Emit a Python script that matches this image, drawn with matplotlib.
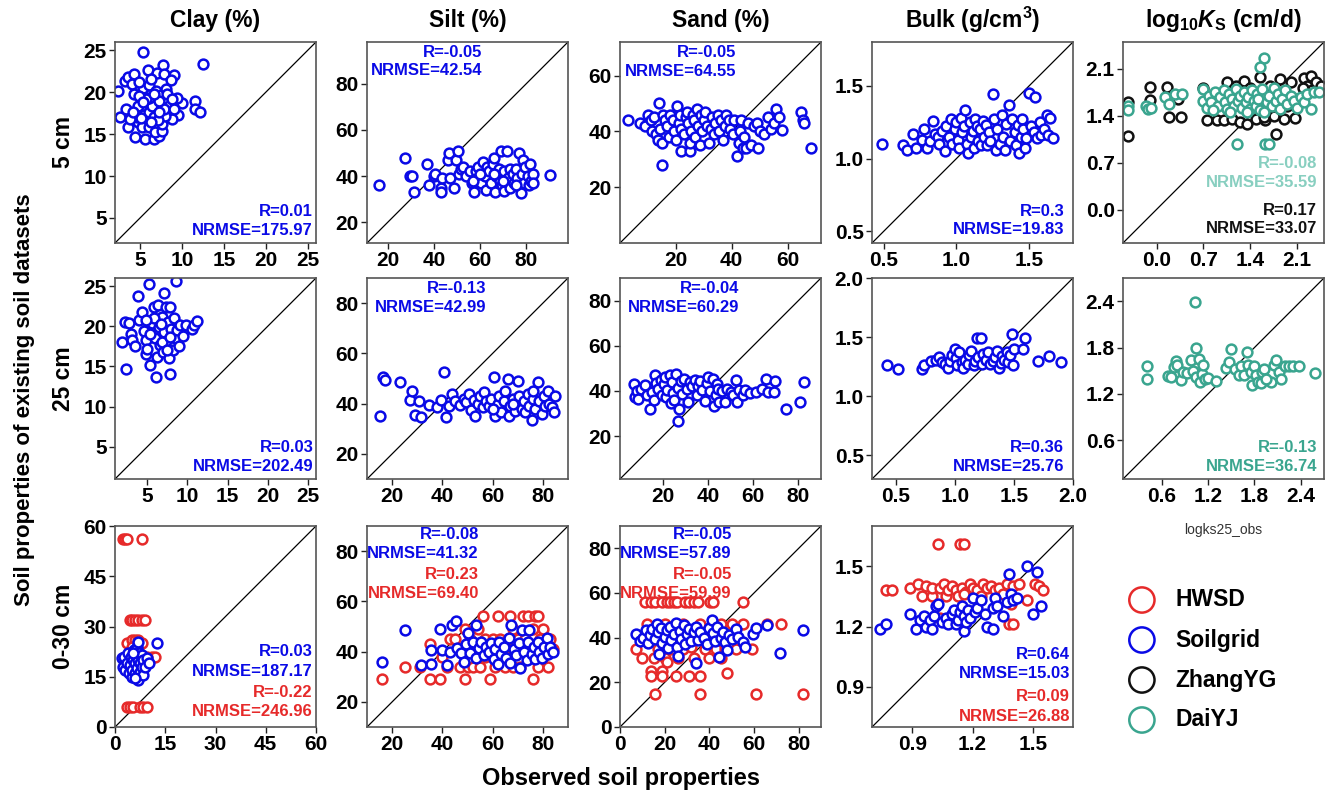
import matplotlib
matplotlib.use("Agg")
import matplotlib.pyplot as plt
from matplotlib.ticker import FormatStrFormatter

plt.rcParams["font.family"] = ["Liberation Sans", "DejaVu Sans"]
plt.rcParams["font.weight"] = "bold"
plt.rcParams["mathtext.fontset"] = "custom"
plt.rcParams["mathtext.rm"] = "Liberation Sans:bold"
plt.rcParams["mathtext.it"] = "Liberation Sans:italic:bold"
plt.rcParams["mathtext.bf"] = "Liberation Sans:bold"

BLUE = "#0a0ae6"
RED = "#e62a2a"
BLACK = "#111111"
TEAL = "#3aa58f"
TEAL_LIGHT = "#88cfc0"

# ---- 5 cm, Soilgrid ----
clay5_obs = [5.3, 12.5, 7.7, 2.4, 2.6, 3.3, 3.5, 4.4, 5.6, 6.6, 7.3, 3.2, 3.5, 4.3, 4.0, 5.9, 7.0, 7.8, 9.0, 8.7,
             11.6, 11.6, 12.2, 10.0, 9.4, 9.5, 8.8, 4.3, 4.8, 4.8, 5.2, 6.1, 6.8, 7.6, 7.6, 8.0, 5.5, 6.0, 6.4, 6.0,
             5.4, 6.1, 6.3, 6.9, 7.5, 8.1, 8.2, 8.4, 7.9, 7.2, 5.7, 4.9, 4.6, 6.7, 7.1, 8.8, 9.0, 4.9, 5.4, 6.6,
             7.3, 6.3, 5.1, 3.8, 4.2]
clay5_sg = [24.8, 23.4, 23.3, 20.1, 17.1, 18.0, 15.8, 14.7, 14.4, 14.4, 14.8, 21.3, 21.8, 22.2, 21.0, 22.7, 22.3, 22.2, 22.1, 21.5,
            19.0, 18.0, 17.6, 18.7, 19.3, 17.3, 16.8, 19.8, 18.3, 16.5, 15.8, 15.9, 15.2, 15.4, 16.2, 17.2, 17.3, 17.6, 18.4, 19.3,
            20.5, 20.9, 21.6, 20.2, 19.7, 20.4, 19.8, 18.4, 18.0, 18.9, 19.2, 21.2, 17.0, 17.1, 16.7, 19.2, 18.0, 19.5, 18.8, 19.8,
            17.6, 16.5, 16.9, 16.8, 17.6]

silt5_obs = [16, 27.5, 29.5, 30.5, 31.5, 37, 38, 40, 40.5, 43, 43, 43.5, 46, 46.5, 47, 48.5, 49.5, 50.5, 51, 51.5,
             52.5, 54, 55.5, 56.5, 57.5, 58, 59, 59, 60.5, 61, 62, 62.5, 63, 64, 64.5, 65.5, 66, 66.5, 67, 68,
             68.5, 69, 69.5, 70.5, 70.5, 71.5, 72, 73, 73, 74, 74.5, 75.5, 76, 77, 77.5, 78, 78.5, 79, 79.5, 80.5,
             81, 81.5, 82, 83, 83, 90, 57, 60, 66, 70, 75.5]
silt5_sg = [36, 48, 40, 40, 33, 45, 36, 40, 41, 35, 33, 39, 47, 50, 39, 35, 47, 51, 41, 43,
            44, 40, 42, 37, 33, 42, 39, 44, 37, 46, 40, 34, 44, 42, 37, 45, 48, 33, 40, 43,
            38, 51, 36, 42, 33.5, 51, 39, 35, 43, 41, 37, 43, 39, 50, 32.5, 41, 47, 37, 44, 40,
            36, 45, 38, 41, 37, 40.5, 38, 41, 41, 38, 36]

sand5_obs = [3, 7, 9, 10, 11, 11.5, 12, 13, 13.5, 14, 14.5, 15, 15, 15.5, 16, 17, 17.5, 18, 19, 19.5,
             20, 20.5, 21, 21.5, 22, 22, 23, 23.5, 24, 24.5, 25, 25, 25.5, 26, 26.5, 27, 27.5, 28, 28.5, 29,
             29.5, 30, 30.5, 31, 32, 32.5, 33, 33.5, 34, 35, 35.5, 36, 37, 37.5, 38, 39, 39.5, 40.5, 41, 42,
             42.5, 43, 43.5, 44, 44.5, 45, 46, 47, 48, 49, 49.5, 50, 51.5, 53, 54, 55, 56, 57, 58, 65,
             65.5, 66, 68.5]
sand5_sg = [44, 43, 42, 46, 44, 40, 45, 39, 37, 50, 41, 36, 28, 46, 44, 42, 38, 46, 44, 40,
            37, 49, 43, 46, 33, 41, 39, 45, 47, 43, 33, 36, 40, 46, 44, 38, 48, 42, 35, 46,
            40, 44, 47, 42, 36, 41, 45, 39, 43, 46, 40, 44, 37, 42, 46, 44, 41, 39, 44, 31,
            36, 40, 44, 34, 38, 34, 43, 35, 42, 43, 34, 40, 39, 45, 41, 43, 48, 45, 40.5, 47,
            44, 43, 34]

bulk5_obs = [0.49, 0.63, 0.66, 0.70, 0.72, 0.76, 0.78, 0.80, 0.82, 0.84, 0.85, 0.87, 0.88, 0.90, 0.92, 0.93, 0.95, 0.96, 0.97, 0.99,
             1.00, 1.01, 1.02, 1.03, 1.04, 1.05, 1.06, 1.07, 1.08, 1.09, 1.10, 1.11, 1.12, 1.13, 1.14, 1.15, 1.16, 1.17, 1.18, 1.19,
             1.20, 1.21, 1.22, 1.23, 1.25, 1.26, 1.27, 1.28, 1.30, 1.31, 1.32, 1.33, 1.34, 1.36, 1.37, 1.38, 1.40, 1.41, 1.42, 1.43,
             1.44, 1.45, 1.46, 1.47, 1.48, 1.50, 1.51, 1.53, 1.54, 1.55, 1.57, 1.58, 1.60, 1.62, 1.63, 1.64, 1.66]
bulk5_sg = [1.10, 1.09, 1.06, 1.17, 1.07, 1.13, 1.20, 1.07, 1.12, 1.26, 1.17, 1.15, 1.10, 1.19, 1.05, 1.22, 1.15, 1.27, 1.10, 1.20,
            1.25, 1.13, 1.07, 1.28, 1.18, 1.22, 1.33, 1.10, 1.04, 1.25, 1.15, 1.19, 1.07, 1.27, 1.22, 1.12, 1.20, 1.09, 1.26, 1.15,
            1.23, 1.09, 1.18, 1.12, 1.44, 1.27, 1.06, 1.20, 1.10, 1.30, 1.15, 1.06, 1.24, 1.37, 1.12, 1.27, 1.18, 1.09, 1.23, 1.04,
            1.15, 1.27, 1.20, 1.07, 1.14, 1.45, 1.22, 1.18, 1.42, 1.14, 1.25, 1.16, 1.20, 1.30, 1.16, 1.28, 1.14]

ks5_obs_zh = [-0.42, -0.42, -0.10, -0.10, 0.15, 0.18, 0.32, 0.36, 0.70, 0.76, 0.90, 1.00, 1.05, 1.12, 1.18, 1.25, 1.30, 1.35, 1.40, 1.48,
              1.55, 1.62, 1.70, 1.76, 1.85, 1.90, 2.00, 2.07, 2.20, 2.25, 2.30, 2.32, 2.38, 2.45, 2.18, 1.78, 1.60, 1.45, 1.95, 2.10]
ks5_zh = [1.60, 1.10, 1.83, 1.63, 1.83, 1.38, 1.65, 1.38, 1.82, 1.33, 1.34, 1.34, 1.90, 1.35, 1.85, 1.30, 1.92, 1.28, 1.82, 1.35,
          1.98, 1.33, 1.85, 1.40, 1.95, 1.35, 1.90, 1.36, 1.96, 1.85, 2.00, 1.78, 1.90, 1.85, 1.82, 1.12, 1.38, 1.50, 1.55, 1.65]
ks5_obs_dai = [-0.42, -0.42, -0.15, -0.12, -0.08, 0.12, 0.18, 0.28, 0.38, 0.70, 0.70, 0.75, 0.78, 0.82, 0.88, 0.92, 0.95, 1.00, 1.02, 1.05,
               1.08, 1.12, 1.15, 1.18, 1.20, 1.22, 1.25, 1.28, 1.30, 1.33, 1.36, 1.40, 1.42, 1.45, 1.48, 1.50, 1.52, 1.55, 1.58, 1.60,
               1.55, 1.62, 1.68, 1.65, 1.68, 1.72, 1.75, 1.78, 1.82, 1.85, 1.88, 1.92, 1.95, 2.00, 2.05, 2.10, 2.15, 2.20, 2.25, 2.30,
               2.35, 2.42, 1.10, 1.35, 1.60, 0.85]
ks5_dai = [1.55, 1.48, 1.55, 1.50, 1.52, 1.68, 1.58, 1.72, 1.72, 1.80, 1.62, 1.52, 1.70, 1.60, 1.75, 1.55, 1.68, 1.78, 1.60, 1.50,
           1.72, 1.65, 1.55, 1.80, 0.98, 1.62, 1.70, 1.52, 1.75, 1.60, 1.68, 1.50, 1.78, 1.62, 1.55, 1.72, 1.65, 1.48, 1.80, 2.26,
           2.12, 0.98, 0.98, 1.60, 1.70, 1.55, 1.82, 1.62, 1.72, 1.50, 1.65, 1.78, 1.58, 1.70, 1.62, 1.52, 1.68, 1.60, 1.72, 1.50,
           1.75, 1.75, 1.45, 1.45, 1.45, 1.48]

# ---- 25 cm ----
clay25_obs = [5.2, 8.6, 7.1, 3.8, 2.3, 2.8, 1.9, 2.4, 3.0, 3.1, 3.5, 4.0, 4.3, 4.6, 4.8, 4.9, 5.0, 5.4, 5.6, 5.8,
              6.0, 6.1, 6.2, 6.4, 6.5, 6.6, 6.8, 7.0, 7.1, 7.3, 7.4, 7.6, 7.7, 7.8, 7.9, 8.0, 8.2, 8.3, 8.5, 8.7,
              8.9, 9.1, 9.4, 9.8, 10.6, 10.8, 11.2, 5.3, 6.9, 7.9, 5.9, 6.7, 4.9, 7.5]
clay25_sg = [25.3, 25.6, 24.1, 23.8, 20.5, 20.4, 18.0, 14.7, 19.0, 18.3, 17.6, 20.8, 21.8, 19.4, 18.3, 16.5, 17.2, 15.2, 20.4, 22.4,
             18.5, 13.7, 16.2, 22.7, 19.9, 17.7, 21.2, 16.8, 19.3, 22.4, 18.2, 20.5, 16.1, 14.0, 22.4, 19.7, 17.0, 21.0, 18.5, 19.5,
             17.5, 20.2, 18.8, 20.2, 19.6, 20.1, 20.6, 19.0, 18.0, 18.6, 21.0, 20.3, 20.8, 17.0]

silt25_obs = [15, 16.5, 17, 23, 27, 28, 29, 30.5, 31.5, 34.5, 38, 39.5, 40.5, 41.5, 42.5, 44, 45, 47, 48.5, 49.5,
              50.5, 51.5, 52.5, 53, 54, 55, 56, 56.5, 57.5, 58.5, 59.5, 60.5, 61, 62, 62.5, 63.5, 64.5, 65, 66, 66.5,
              67, 68, 69, 70, 70.5, 71.5, 72.5, 73, 74, 74.5, 75.5, 76, 77, 78, 78.5, 79.5, 80.5, 81, 82, 82.5,
              83.5, 84.5, 85, 60, 68, 76]
silt25_sg = [35, 50.5, 49.5, 48.5, 41.5, 45, 35.5, 41, 34.5, 39.5, 38.5, 41.5, 52.5, 34.5, 39, 44, 41, 39.5, 42, 40.5,
             44, 37.5, 41.5, 35, 40, 43, 38.5, 44.5, 41, 39, 42, 50.5, 35, 40, 43, 36.5, 41, 45, 50, 35,
             39, 42, 37, 49, 43, 38, 41, 36.5, 44, 39, 33.5, 42, 38, 48.5, 41, 36, 43, 39, 45, 40,
             38.5, 36.5, 43, 38, 40, 45]

sand25_obs = [7, 7.5, 8.5, 9, 10.5, 12, 13, 14.5, 15, 16, 16.5, 17, 18, 19, 19.5, 20.5, 21, 21.5, 22, 23,
              23.5, 24, 24.5, 25, 26, 26.5, 27, 26.5, 28, 28.5, 29.5, 30.5, 31, 32, 33, 34, 35, 35.5, 36.5, 37.5,
              38.5, 39.5, 40, 41, 42, 42.5, 43.5, 44, 44.5, 45, 46, 47.5, 48.5, 50, 51, 52.5, 53, 53.5, 55.5, 56.5,
              58.5, 61, 64, 65.5, 66.5, 69, 69.5, 74.5, 80.5, 82.5]
sand25_sg = [43, 37.5, 40, 36.5, 41, 42.5, 38, 32, 39.5, 36, 47, 43.5, 41, 45, 38, 43, 46, 37.5, 40.5, 47,
             34.5, 44, 39, 36, 47.5, 41.5, 32, 26.5, 44.5, 38.5, 45.5, 41, 35, 44, 42, 45, 38, 42, 44.5, 40.5,
             35.5, 43.5, 46, 40, 45.5, 33.5, 38, 43, 41, 35, 40, 35, 41, 39.5, 38, 45, 35, 40.5, 38, 40.5,
             39, 39.5, 41, 45.5, 39.5, 39.5, 44.5, 32, 35, 44]

bulk25_obs = [0.43, 0.52, 0.72, 0.74, 0.80, 0.84, 0.87, 0.89, 0.92, 0.94, 0.96, 0.98, 1.00, 1.01, 1.02, 1.04, 1.06, 1.07, 1.09, 1.11,
              1.12, 1.14, 1.16, 1.17, 1.19, 1.20, 1.22, 1.23, 1.24, 1.26, 1.28, 1.30, 1.32, 1.34, 1.36, 1.37, 1.39, 1.40, 1.42, 1.44,
              1.45, 1.47, 1.48, 1.49, 1.50, 1.59, 1.58, 1.70, 1.80, 1.90]
bulk25_sg = [1.26, 1.23, 1.23, 1.26, 1.30, 1.31, 1.33, 1.29, 1.27, 1.24, 1.30, 1.35, 1.40, 1.32, 1.26, 1.37, 1.29, 1.24, 1.31, 1.27,
             1.35, 1.38, 1.26, 1.30, 1.49, 1.33, 1.49, 1.27, 1.36, 1.31, 1.37, 1.27, 1.30, 1.33, 1.38, 1.24, 1.28, 1.34, 1.31, 1.37,
             1.29, 1.35, 1.53, 1.26, 1.40, 1.49, 1.40, 1.30, 1.34, 1.29]

ks25_obs = [0.41, 0.41, 0.68, 0.72, 0.76, 0.78, 0.80, 0.85, 0.88, 0.93, 0.98, 1.00, 1.03, 1.05, 1.05, 1.08, 1.10, 1.12, 1.14, 1.16,
            1.20, 1.30, 1.43, 1.47, 1.50, 1.55, 1.60, 1.62, 1.66, 1.70, 1.72, 1.75, 1.77, 1.80, 1.82, 1.85, 1.88, 1.90, 1.93, 2.02,
            2.05, 2.08, 2.12, 2.15, 2.20, 2.25, 2.30, 2.38, 2.58, 1.95]
ks25_dai = [1.56, 1.40, 1.43, 1.42, 1.55, 1.63, 1.58, 1.38, 1.48, 1.47, 1.64, 1.50, 2.39, 1.79, 1.42, 1.65, 1.36, 1.46, 1.58, 1.40,
            1.41, 1.37, 1.53, 1.61, 1.78, 1.52, 1.45, 1.56, 1.44, 1.74, 1.58, 1.49, 1.32, 1.56, 1.44, 1.36, 1.34, 1.48, 1.52, 1.35,
            1.58, 1.64, 1.48, 1.40, 1.56, 1.56, 1.56, 1.56, 1.47, 1.40]

# ---- 0-30 cm, HWSD and Soilgrid ----
clay30_obs_hw = [2.5, 3, 3.5, 8, 4.5, 5, 6, 7, 8, 9, 3.5, 5, 6, 7, 8, 11, 12, 3.5, 4.5, 5.5,
                 7.5, 8.5, 9.5, 5, 7, 8, 9.5]
clay30_hw = [56, 56, 56, 56, 32, 32, 32, 32, 32, 32, 25, 26, 26, 26, 25, 21, 21, 6, 6, 6,
             6, 6, 6, 24, 23, 20, 21]
clay30_obs_sg = [2.0, 2.5, 2.8, 3, 3.5, 4, 4.2, 4.5, 4.8, 5, 5.2, 5.5, 5.7, 6, 6, 6.3, 6.5, 6.5, 6.8, 7,
                 7, 7.2, 7.5, 7.5, 8, 8, 8.3, 8.5, 9, 9.5, 10, 12.5, 6, 5.5]
clay30_sg = [20.5, 18, 21, 17, 19, 22, 16, 18.5, 21, 15, 17, 20, 23, 16, 19, 21.5, 24, 17.5, 25.5, 14,
             20, 22, 16.5, 19, 18, 21.5, 15.5, 20, 18, 20.5, 19, 25, 14.5, 22]

silt30_obs_hw = [16, 25, 31, 35, 39, 35, 40, 42, 43, 45, 47, 48, 49, 49, 50, 51, 52, 53, 55, 56,
                 57, 59, 59, 60, 61, 62, 63, 64, 65, 66, 67, 68, 68, 69, 70, 71, 72, 73, 74, 75,
                 76, 76, 77, 78, 78, 79, 80, 81, 82, 83, 84, 80, 66, 57, 54]
silt30_hw = [29, 34, 34, 29, 29, 43, 38, 34, 45, 45, 34, 41, 29, 49, 34, 45, 34, 41, 34, 54,
             45, 29, 41, 45, 34, 54, 45, 38, 34, 45, 54, 34, 49, 41, 45, 34, 54, 45, 54, 41,
             29, 49, 54, 34, 54, 45, 49, 41, 34, 45, 41, 38, 38, 38, 49]
silt30_obs_sg = [16, 25, 31.5, 35.5, 35.5, 39, 40, 42, 43, 44, 45.5, 46, 47.5, 48.5, 49.5, 50, 51, 52, 53.5, 53.5,
                 54.5, 55.5, 56.5, 57.5, 58.5, 59.5, 60.5, 61, 62, 62.5, 63.5, 64.5, 65.5, 66.5, 67, 67.5, 68.5, 69.5, 70.5, 71,
                 71.5, 72.5, 73.5, 74, 74.5, 75.5, 76.5, 77, 78, 78.5, 79.5, 80.5, 81.5, 82, 83, 84]
silt30_sg = [36, 48.5, 34.5, 35, 40.5, 49, 40.5, 34.5, 40, 50.5, 52, 41.5, 39.5, 36, 43, 47.5, 39.5, 44, 37.5, 50.5,
             41.5, 44, 38.5, 42, 40, 43.5, 37, 41, 35, 44, 39, 42, 37.5, 45.5, 35.5, 50.5, 41, 38.5, 43.5, 33.5,
             48.5, 40, 36.5, 44, 48.5, 39, 42, 37, 44, 40, 37.5, 42, 45.5, 39, 42, 40]

sand30_obs_hw = [11, 14, 15.5, 19, 21, 22.5, 24, 25.5, 29, 31, 33, 35, 40.5, 41.5, 55, 7, 10, 14, 14, 15.5,
                 15, 17, 19, 19, 20, 21, 23, 25, 26, 28, 31, 33, 36, 36, 38, 40, 43, 45, 47, 48,
                 52, 55, 59, 61, 66, 72, 82, 12, 20, 28, 36, 45, 50, 32, 42]
sand30_hw = [56, 56, 56, 56, 56, 56, 56, 56, 56, 56, 56, 56, 56, 56, 56, 35, 31, 25, 23, 15,
             31, 35, 25, 23, 31, 29, 35, 23, 31, 35, 23, 31, 15, 23, 35, 31, 35, 31, 35, 24,
             35, 46, 35, 15, 46, 46, 15, 46, 46, 46, 46, 46, 46, 36, 40]
sand30_obs_sg = [7, 9, 10.5, 11.5, 12.5, 13.5, 14.5, 15.5, 16.5, 17, 17.5, 18.5, 19, 20, 21, 21.5, 22.5, 23, 24, 25,
                 25.5, 26, 27, 27.5, 28.5, 29, 30, 31, 32, 33, 34, 34, 35, 36, 37.5, 39, 40, 41, 41.5, 42.5,
                 43.5, 44.5, 45, 46, 47, 48, 49, 50, 52, 53, 55, 56, 59.5, 61, 66, 71.5, 82]
sand30_sg = [41.5, 38.5, 40, 43.5, 37.5, 41, 44, 39.5, 46, 42.5, 32.5, 44.5, 37.5, 40.5, 43.5, 35.5, 45, 39, 41.5, 46.5,
             36, 32, 43, 39.5, 45.5, 37, 41.5, 44, 38.5, 42.5, 28.5, 45, 39, 42.5, 40, 37, 44.5, 48, 42, 38.5,
             45, 31.5, 40, 42.5, 38, 34.5, 41, 39.5, 44, 40.5, 38, 36, 41.5, 44.5, 45.5, 33, 43.5]

bulk30_obs_hw = [0.77, 0.80, 0.89, 0.93, 0.95, 0.97, 1.00, 1.00, 1.03, 1.04, 1.06, 1.07, 1.08, 1.10, 1.12, 1.13, 1.14, 1.16, 1.15, 1.17,
                 1.19, 1.20, 1.22, 1.24, 1.25, 1.27, 1.29, 1.31, 1.33, 1.35, 1.37, 1.38, 1.39, 1.40, 1.40, 1.43, 1.47, 1.51, 1.53, 1.55,
                 1.16, 1.04]
bulk30_hw = [1.38, 1.38, 1.39, 1.41, 1.35, 1.40, 1.35, 1.39, 1.61, 1.39, 1.41, 1.35, 1.38, 1.40, 1.38, 1.35, 1.61, 1.61, 1.39, 1.37,
             1.41, 1.39, 1.38, 1.35, 1.41, 1.39, 1.40, 1.38, 1.39, 1.36, 1.41, 1.21, 1.31, 1.21, 1.40, 1.41, 1.33, 1.41, 1.40, 1.38,
             1.36, 1.24]
bulk30_obs_sg = [0.74, 0.77, 0.89, 0.92, 0.94, 0.96, 0.97, 0.99, 1.00, 1.01, 1.02, 1.03, 1.05, 1.07, 1.08, 1.10, 1.11, 1.12, 1.13, 1.14,
                 1.15, 1.16, 1.16, 1.17, 1.18, 1.19, 1.20, 1.21, 1.22, 1.24, 1.26, 1.27, 1.30, 1.30, 1.31, 1.32, 1.35, 1.37, 1.38, 1.39,
                 1.40, 1.42, 1.47, 1.50, 1.52, 1.54]
bulk30_sg = [1.19, 1.21, 1.26, 1.19, 1.23, 1.25, 1.20, 1.23, 1.19, 1.25, 1.30, 1.31, 1.22, 1.24, 1.21, 1.26, 1.28, 1.21, 1.23, 1.27,
             1.30, 1.18, 1.25, 1.22, 1.28, 1.24, 1.34, 1.27, 1.29, 1.33, 1.26, 1.20, 1.19, 1.29, 1.34, 1.30, 1.25, 1.32, 1.46, 1.36,
             1.33, 1.34, 1.50, 1.26, 1.47, 1.30]

col_titles = ["Clay (%)", "Silt (%)", "Sand (%)", "Bulk (g/cm$^3$)", r"log$_{10}$$K_{\mathrm{S}}$ (cm/d)"]
row_titles = ["5 cm", "25 cm", "0-30 cm"]
legend_names = ["HWSD", "Soilgrid", "ZhangYG", "DaiYJ"]
legend_colors = [RED, BLUE, BLACK, TEAL]

# (row, col): series [(x, y, colour)], limits, ticks, float fmt, stats [(text, colour, xfrac, yfrac)]
panels = {
    (0, 0): ([(clay5_obs, clay5_sg, BLUE)], (2, 26), [5, 10, 15, 20, 25], False,
             [("R=0.01", BLUE, 0.985, 0.158), ("NRMSE=175.97", BLUE, 0.985, 0.063)]),
    (0, 1): ([(silt5_obs, silt5_sg, BLUE)], (11, 98), [20, 40, 60, 80], False,
             [("R=-0.05", BLUE, 0.572, 0.95), ("NRMSE=42.54", BLUE, 0.572, 0.858)]),
    (0, 2): ([(sand5_obs, sand5_sg, BLUE)], (0, 72), [20, 40, 60], False,
             [("R=-0.05", BLUE, 0.577, 0.95), ("NRMSE=64.55", BLUE, 0.577, 0.855)]),
    (0, 3): ([(bulk5_obs, bulk5_sg, BLUE)], (0.42, 1.8), [0.5, 1.0, 1.5], True,
             [("R=0.3", BLUE, 0.958, 0.158), ("NRMSE=19.83", BLUE, 0.958, 0.067)]),
    (0, 4): ([(ks5_obs_zh, ks5_zh, BLACK), (ks5_obs_dai, ks5_dai, TEAL)], (-0.5, 2.5), [0.0, 0.7, 1.4, 2.1], True,
             [("R=-0.08", TEAL_LIGHT, 0.967, 0.397), ("NRMSE=35.59", TEAL_LIGHT, 0.967, 0.303),
              ("R=0.17", BLACK, 0.967, 0.163), ("NRMSE=33.07", BLACK, 0.967, 0.072)]),
    (1, 0): ([(clay25_obs, clay25_sg, BLUE)], (1, 26), [5, 10, 15, 20, 25], False,
             [("R=0.03", BLUE, 0.99, 0.158), ("NRMSE=202.49", BLUE, 0.99, 0.063)]),
    (1, 1): ([(silt25_obs, silt25_sg, BLUE)], (10, 90), [20, 40, 60, 80], False,
             [("R=-0.13", BLUE, 0.592, 0.948), ("NRMSE=42.99", BLUE, 0.592, 0.854)]),
    (1, 2): ([(sand25_obs, sand25_sg, BLUE)], (1, 90), [20, 40, 60, 80], False,
             [("R=-0.04", BLUE, 0.592, 0.948), ("NRMSE=60.29", BLUE, 0.592, 0.854)]),
    (1, 3): ([(bulk25_obs, bulk25_sg, BLUE)], (0.3, 2.0), [0.5, 1.0, 1.5, 2.0], True,
             [("R=0.36", BLUE, 0.955, 0.155), ("NRMSE=25.76", BLUE, 0.955, 0.06)]),
    (1, 4): ([(ks25_obs, ks25_dai, TEAL)], (0.1, 2.7), [0.6, 1.2, 1.8, 2.4], True,
             [("R=-0.13", TEAL, 0.967, 0.155), ("NRMSE=36.74", TEAL, 0.967, 0.06)]),
    (2, 0): ([(clay30_obs_hw, clay30_hw, RED), (clay30_obs_sg, clay30_sg, BLUE)], (0, 60), [0, 15, 30, 45, 60], False,
             [("R=0.03", BLUE, 0.983, 0.374), ("NRMSE=187.17", BLUE, 0.983, 0.277),
              ("R=-0.22", RED, 0.983, 0.17), ("NRMSE=246.96", RED, 0.983, 0.075)]),
    (2, 1): ([(silt30_obs_hw, silt30_hw, RED), (silt30_obs_sg, silt30_sg, BLUE)], (10, 90), [20, 40, 60, 80], False,
             [("R=-0.08", BLUE, 0.556, 0.96), ("NRMSE=41.32", BLUE, 0.556, 0.864),
              ("R=0.23", RED, 0.556, 0.76), ("NRMSE=69.40", RED, 0.556, 0.664)]),
    (2, 2): ([(sand30_obs_hw, sand30_hw, RED), (sand30_obs_sg, sand30_sg, BLUE)], (0, 90), [0, 20, 40, 60, 80], False,
             [("R=-0.05", BLUE, 0.556, 0.96), ("NRMSE=57.89", BLUE, 0.556, 0.864),
              ("R=-0.05", RED, 0.556, 0.76), ("NRMSE=59.99", RED, 0.556, 0.664)]),
    (2, 3): ([(bulk30_obs_hw, bulk30_hw, RED), (bulk30_obs_sg, bulk30_sg, BLUE)], (0.7, 1.7), [0.9, 1.2, 1.5], True,
             [("R=0.64", BLUE, 0.985, 0.36), ("NRMSE=15.03", BLUE, 0.985, 0.266),
              ("R=0.09", RED, 0.985, 0.15), ("NRMSE=26.88", RED, 0.985, 0.053)]),
}

W, H = 1333, 798
col_left = [115, 367, 620, 872, 1123]
row_top = [42, 278, 526]
box = 201

fig = plt.figure(figsize=(W / 100, H / 100), dpi=100)


def px_axes(left, top, w, h):
    return fig.add_axes([left / W, 1 - (top + h) / H, w / W, h / H])


for (r, c), (series, lims, ticks, is_float, stats) in panels.items():
    ax = px_axes(col_left[c], row_top[r], box, box)
    ax.plot(lims, lims, color="black", lw=0.9, zorder=1)
    for xs, ys, colr in series:
        ax.scatter(xs, ys, s=50, facecolors="white", edgecolors=colr, linewidths=1.8, zorder=2)
    ax.set_xlim(lims)
    ax.set_ylim(lims)
    ax.set_xticks(ticks)
    ax.set_yticks(ticks)
    if is_float:
        ax.xaxis.set_major_formatter(FormatStrFormatter("%.1f"))
        ax.yaxis.set_major_formatter(FormatStrFormatter("%.1f"))
    ax.tick_params(direction="out", length=4, width=1, labelsize=15, pad=2, colors="#222222",
                   labelcolor="black")
    for sp in ax.spines.values():
        sp.set_color("#555555")
        sp.set_linewidth(1.2)
    for txt, colr, xf, yf in stats:
        ax.text(xf, yf, txt, transform=ax.transAxes, ha="right", va="center",
                fontsize=12, fontweight="bold", color=colr, zorder=3)

for c, t in enumerate(col_titles):
    fig.text((col_left[c] + box / 2) / W, 1 - 20 / H, t, ha="center", va="center",
             fontsize=16.5, fontweight="bold")

for r, t in enumerate(row_titles):
    fig.text(64 / W, 1 - (row_top[r] + box / 2) / H, t, ha="center", va="center",
             rotation=90, fontsize=16.5, fontweight="bold")

fig.text(25 / W, 1 - 400 / H, "Soil properties of existing soil datasets", ha="center", va="center",
         rotation=90, fontsize=16, fontweight="bold")
fig.text(621 / W, 1 - 779 / H, "Observed soil properties", ha="center", va="center",
         fontsize=17, fontweight="bold")
fig.text(1223 / W, 1 - 530 / H, "logks25_obs", ha="center", va="center",
         fontsize=10, fontweight="normal", color="#333333")

# legend drawn as its own axes
lax = px_axes(1123, 580, 210, 160)
lax.set_xlim(0, 1)
lax.set_ylim(0, 4)
lax.axis("off")
for i, (name, colr) in enumerate(zip(legend_names, legend_colors)):
    yy = 3.5 - i
    lax.scatter([0.09], [yy], s=330, facecolors="none", edgecolors=colr, linewidths=1.8, clip_on=False)
    lax.text(0.25, yy, name, ha="left", va="center", fontsize=16.5, fontweight="bold")

fig.savefig("out.png", dpi=100)
